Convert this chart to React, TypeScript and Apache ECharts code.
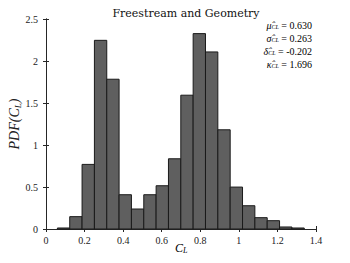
import React, { useEffect, useRef } from "react";
import * as echarts from "echarts";

const binStart = 0.059;
const binWidth = 0.064;
const pdfValues = [0.012, 0.147, 0.769, 2.246, 1.783, 0.408, 0.238, 0.408, 0.515, 0.836, 1.593, 2.326, 2.108, 1.181, 0.499, 0.277, 0.135, 0.099, 0.024, 0.012];
const xTicks = [0, 0.2, 0.4, 0.6, 0.8, 1, 1.2, 1.4];
const statSymbols = ["μ̂", "σ̂", "δ̂", "κ̂"];
const statValues = ["0.630", "0.263", "-0.202", "1.696"];

const SERIF = "'Liberation Serif', 'DejaVu Serif', serif";

export default function App() {
  const ref = useRef<HTMLDivElement>(null);
  useEffect(() => {
    if (!ref.current) return;
    const chart = echarts.init(ref.current, null, { renderer: "svg" });
    const data = pdfValues.map((v, i) => [binStart + i * binWidth, binStart + (i + 1) * binWidth, v]);
    const axisLine = { show: true, lineStyle: { color: "#262626", width: 1 } };
    const tick = { show: true, inside: true, length: 3, lineStyle: { color: "#262626" } };
    chart.setOption({
      animation: false,
      backgroundColor: "#ffffff",
      title: {
        text: "Freestream and Geometry",
        left: 181,
        textAlign: "center",
        top: 3,
        textStyle: { fontFamily: "'DejaVu Serif', serif", fontSize: 11, fontWeight: "normal", color: "#111" },
      },
      grid: { left: 46, right: 34, top: 19, bottom: 34, containLabel: false, outerBoundsMode: "none" },
      xAxis: [
        {
          type: "value",
          min: 0,
          max: 1.4,
          interval: 0.2,
          axisLine,
          axisTick: tick,
          splitLine: { show: false },
          axisLabel: {
            fontFamily: SERIF,
            fontSize: 10,
            color: "#222",
            margin: 6,
            formatter: (v: number) => (xTicks.includes(Math.round(v * 10) / 10) ? String(Math.round(v * 10) / 10) : ""),
          },
        },
        {
          type: "value",
          position: "top",
          min: 0,
          max: 1.4,
          interval: 0.2,
          axisLine,
          axisTick: tick,
          axisLabel: { show: false },
          splitLine: { show: false },
        },
      ],
      yAxis: [
        {
          type: "value",
          min: 0,
          max: 2.5,
          interval: 0.5,
          axisLine,
          axisTick: tick,
          splitLine: { show: false },
          axisLabel: { fontFamily: SERIF, fontSize: 10, color: "#222", margin: 8 },
          name: "{i|PDF(C}{s|L}{i|)}",
          nameLocation: "middle",
          nameGap: 24,
          nameMoveOverlap: false,
          nameRotate: 90,
          nameTextStyle: {
            rich: {
              i: { fontFamily: SERIF, fontStyle: "italic", fontSize: 14, color: "#222" },
              s: { fontFamily: SERIF, fontStyle: "italic", fontSize: 9, color: "#222", padding: [6, 0, 0, 0] },
            },
          },
        },
        {
          type: "value",
          position: "right",
          min: 0,
          max: 2.5,
          interval: 0.5,
          axisLine,
          axisTick: tick,
          axisLabel: { show: false },
          splitLine: { show: false },
        },
      ],
      series: [
        {
          type: "custom",
          xAxisIndex: 0,
          yAxisIndex: 0,
          data,
          renderItem: (params: any, api: any) => {
            const p0 = api.coord([api.value(0), api.value(2)]);
            const p1 = api.coord([api.value(1), 0]);
            return {
              type: "rect",
              shape: { x: p0[0], y: p0[1], width: p1[0] - p0[0], height: p1[1] - p0[1] },
              style: { fill: "#5f5f5f", stroke: "#1a1a1a", lineWidth: 1 },
            };
          },
        },
      ],
      graphic: [
        {
          type: "text",
          left: 175,
          top: 242,
          style: {
            text: "{i|C}{s|L}",
            rich: {
              i: { fontFamily: SERIF, fontStyle: "italic", fontSize: 12, color: "#222" },
              s: { fontFamily: SERIF, fontStyle: "italic", fontSize: 8, color: "#222", padding: [4, 0, 0, 0] },
            },
          },
        },
        ...statSymbols.map((s, i) => ({
          type: "text",
          right: 38,
          top: 20 + i * 13,
          style: {
            text: `{g|${s}}{s|CL}{t| = ${statValues[i]}}`,
            rich: {
              g: { fontFamily: SERIF, fontStyle: "italic", fontSize: 10, color: "#222" },
              s: { fontFamily: SERIF, fontStyle: "italic", fontSize: 6, color: "#222", padding: [4, 0, 0, 0] },
              t: { fontFamily: SERIF, fontSize: 10, color: "#222" },
            },
          },
        })),
      ],
    });
    return () => chart.dispose();
  }, []);
  return <div ref={ref} style={{ width: 350, height: 263, margin: -8 }} />;
}
